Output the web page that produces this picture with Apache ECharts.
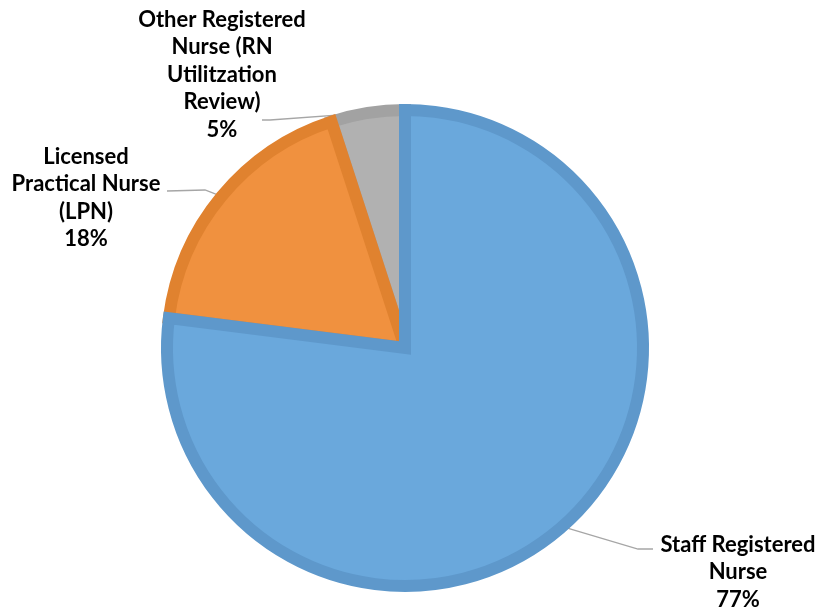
<!DOCTYPE html>
<html>
<head>
<meta charset="utf-8">
<script src="https://cdn.jsdelivr.net/npm/echarts@6/dist/echarts.min.js"></script>
<style>
  html, body { margin: 0; padding: 0; background: #fff; }
  #chart { width: 821px; height: 610px; }
</style>
</head>
<body>
<div id="chart"></div>
<script>
// Nursing staff mix (percent of total), listed counter-clockwise from 12 o'clock
const categories = [
  'Other Registered\nNurse (RN\nUtilitzation\nReview)',
  'Licensed\nPractical Nurse\n(LPN)',
  'Staff Registered\nNurse'
];
const shares = [5, 18, 77];

const fills = ['#b1b1b1', '#f0913f', '#6aa8dc'];
const edges = ['#a2a2a2', '#e0822f', '#5e98cb'];

// Label block placement (centre x, top y) and the elbow / end of each leader line
const labelSpots = [
  { x: 222, y: 6, elbow: [270, 120], end: [262, 120] },
  { x: 86, y: 143, elbow: [205, 190], end: [167, 191] },
  { x: 738, y: 531, elbow: [638, 549], end: [653, 549] }
];

const chart = echarts.init(document.getElementById('chart'), null, { renderer: 'canvas' });

chart.setOption({
  animation: false,
  series: [{
    type: 'pie',
    center: [405, 348],
    radius: 238,
    startAngle: 90,
    clockwise: false,
    avoidLabelOverlap: false,
    data: categories.map((name, i) => ({
      name,
      value: shares[i],
      itemStyle: { color: fills[i], borderColor: edges[i], borderWidth: 12, borderJoin: 'miter' }
    })),
    label: {
      show: true,
      position: 'outside',
      formatter: p => p.name + '\n' + p.value + '%',
      fontFamily: 'Lato',
      fontWeight: 'bold',
      fontSize: 22,
      lineHeight: 27.5,
      color: '#000',
      align: 'center'
    },
    labelLine: {
      show: true,
      length: 20,
      length2: 20,
      lineStyle: { color: '#a6a6a6', width: 1.3 }
    },
    labelLayout: p => {
      const s = labelSpots[p.dataIndex];
      const anchor = p.labelLinePoints ? p.labelLinePoints[0] : null;
      const out = { x: s.x, y: s.y, align: 'center', verticalAlign: 'top' };
      if (anchor) out.labelLinePoints = [anchor, s.elbow, s.end];
      return out;
    }
  }]
});
</script>
</body>
</html>
